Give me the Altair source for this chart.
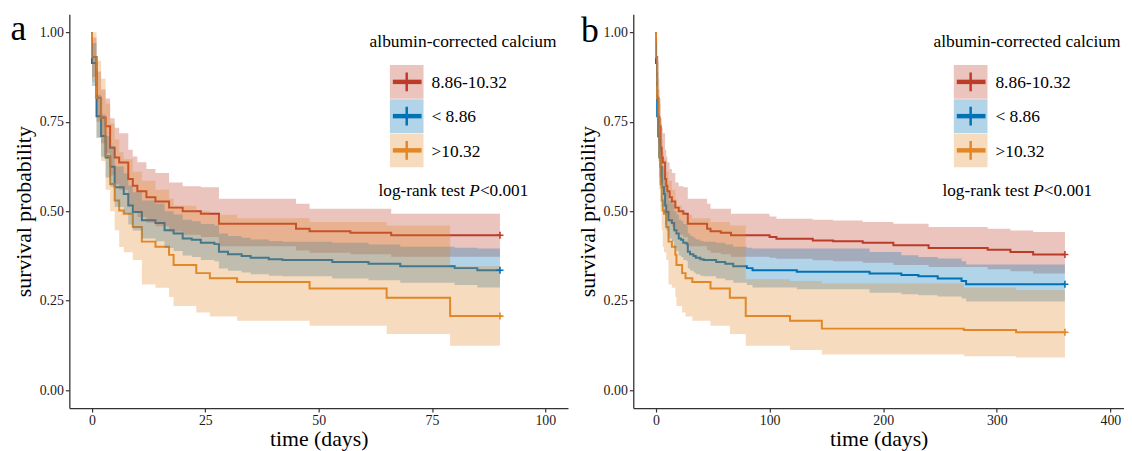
import altair as alt
import pandas as pd

GROUPS = ["8.86-10.32", "< 8.86", ">10.32"]
COLORS = ["#BC3C29", "#0072B5", "#E18727"]

# ---------------- panel a (0-90 days) ----------------
RED_A_T = [0, 0, 1, 2, 3, 4, 5, 6, 8, 9, 10, 12, 14, 17, 20, 24, 28, 45, 48, 57, 66, 90]
RED_A_S = [1.000, 0.931, 0.817, 0.762, 0.737, 0.677, 0.650, 0.636, 0.590, 0.571, 0.556,
           0.539, 0.527, 0.510, 0.500, 0.493, 0.465, 0.451, 0.444, 0.440, 0.433, 0.433]
RED_A_LO = [1.000, 0.875, 0.750, 0.690, 0.662, 0.600, 0.575, 0.560, 0.515, 0.498, 0.484,
            0.468, 0.458, 0.443, 0.434, 0.428, 0.402, 0.390, 0.384, 0.380, 0.373, 0.373]
RED_A_HI = [1.000, 0.985, 0.890, 0.840, 0.815, 0.760, 0.733, 0.718, 0.672, 0.653, 0.637,
            0.618, 0.607, 0.580, 0.570, 0.567, 0.535, 0.521, 0.507, 0.507, 0.493, 0.493]

BLUE_A_T = [0, 0, 1, 2, 3, 4, 5, 7, 8, 9, 11, 14, 16, 18, 20, 22, 24, 27, 28, 30, 33, 35,
            39, 42, 53, 61, 68, 80, 85, 90]
BLUE_A_S = [1.000, 0.914, 0.765, 0.710, 0.650, 0.624, 0.567, 0.548, 0.516, 0.498, 0.475,
            0.467, 0.447, 0.438, 0.424, 0.420, 0.412, 0.408, 0.387, 0.380, 0.375, 0.370,
            0.366, 0.364, 0.358, 0.353, 0.346, 0.341, 0.335, 0.335]
BLUE_A_LO = [1.000, 0.850, 0.705, 0.652, 0.594, 0.568, 0.512, 0.494, 0.463, 0.446, 0.424,
             0.416, 0.397, 0.389, 0.376, 0.372, 0.364, 0.360, 0.340, 0.334, 0.329, 0.324,
             0.320, 0.318, 0.312, 0.307, 0.300, 0.294, 0.287, 0.287]
BLUE_A_HI = [1.000, 0.970, 0.825, 0.770, 0.710, 0.683, 0.625, 0.605, 0.572, 0.553, 0.530,
             0.521, 0.500, 0.491, 0.476, 0.472, 0.464, 0.460, 0.438, 0.431, 0.426, 0.421,
             0.417, 0.415, 0.412, 0.407, 0.401, 0.398, 0.396, 0.396]

ORANGE_A_T = [0, 0, 1, 2, 3, 4, 5, 6, 7, 9, 11, 14, 17, 18, 23, 26, 32, 48, 65, 79, 90]
ORANGE_A_S = [1.000, 0.930, 0.816, 0.760, 0.654, 0.576, 0.530, 0.502, 0.493, 0.456, 0.415,
              0.401, 0.378, 0.350, 0.327, 0.313, 0.302, 0.284, 0.258, 0.207, 0.207]
ORANGE_A_LO = [1.000, 0.860, 0.705, 0.640, 0.560, 0.500, 0.447, 0.400, 0.385, 0.364, 0.295,
               0.286, 0.260, 0.235, 0.217, 0.206, 0.194, 0.180, 0.157, 0.124, 0.124]
ORANGE_A_HI = [1.000, 1.000, 0.920, 0.870, 0.800, 0.745, 0.700, 0.665, 0.645, 0.610, 0.585,
               0.560, 0.535, 0.515, 0.500, 0.490, 0.480, 0.470, 0.460, 0.346, 0.346]

# ---------------- panel b (0-360 days) ----------------
RED_B_T = RED_A_T[:-1] + [100, 106, 138, 156, 182, 209, 240, 292, 312, 332, 360]
RED_B_S = RED_A_S[:-1] + [0.428, 0.423, 0.418, 0.416, 0.412, 0.405, 0.397, 0.392, 0.386, 0.379, 0.379]
RED_B_LO = RED_A_LO[:-1] + [0.370, 0.367, 0.363, 0.360, 0.356, 0.350, 0.344, 0.338, 0.332, 0.326, 0.326]
RED_B_HI = RED_A_HI[:-1] + [0.485, 0.479, 0.476, 0.474, 0.470, 0.465, 0.456, 0.451, 0.446, 0.442, 0.442]

BLUE_B_T = BLUE_A_T[:-1] + [124, 188, 216, 231, 248, 269, 273, 360]
BLUE_B_S = BLUE_A_S[:-1] + [0.331, 0.326, 0.322, 0.318, 0.312, 0.305, 0.296, 0.296]
BLUE_B_LO = BLUE_A_LO[:-1] + [0.282, 0.272, 0.268, 0.265, 0.262, 0.256, 0.248, 0.248]
BLUE_B_HI = BLUE_A_HI[:-1] + [0.396, 0.386, 0.377, 0.372, 0.368, 0.360, 0.351, 0.351]

ORANGE_B_T = ORANGE_A_T[:-2] + [79, 118, 146, 271, 317, 360]
ORANGE_B_S = ORANGE_A_S[:-2] + [0.207, 0.194, 0.172, 0.168, 0.162, 0.162]
ORANGE_B_LO = ORANGE_A_LO[:-2] + [0.124, 0.112, 0.100, 0.095, 0.091, 0.091]
ORANGE_B_HI = ORANGE_A_HI[:-2] + [0.310, 0.305, 0.298, 0.287, 0.280, 0.280]

FONT = "Liberation Serif"
PLUS = "M-1,0H1M0,-1V1"
PLOT_H = 398


def build_df(series):
    rows = []
    for g, (t, s, lo, hi) in zip(GROUPS, series):
        for i, (tt, ss, ll, hh) in enumerate(zip(t, s, lo, hi)):
            rows.append({"group": g, "t": tt, "s": ss, "lo": ll, "hi": hh, "idx": i})
    return pd.DataFrame(rows)


def panel(df, xdomain, xticks, width, letter, letter_x, letter_y):
    xscale = alt.Scale(domain=xdomain, nice=False, zero=False)
    yscale = alt.Scale(domain=[-0.05, 1.05], nice=False, zero=False)
    xaxis = alt.Axis(values=xticks, format="d", title="time (days)")
    yaxis = alt.Axis(values=[0, 0.25, 0.5, 0.75, 1.0], format=".2f",
                     title="survival probability")
    color = alt.Color("group:N", scale=alt.Scale(domain=GROUPS, range=COLORS), legend=None)
    base = alt.Chart(df)

    lines = base.mark_line(interpolate="step-after", strokeWidth=2).encode(
        x=alt.X("t:Q", scale=xscale, axis=xaxis),
        y=alt.Y("s:Q", scale=yscale, axis=yaxis),
        color=color,
        order="idx:Q",
    )
    bands = base.mark_area(interpolate="step-after", opacity=0.3).encode(
        x=alt.X("t:Q", scale=xscale, axis=xaxis),
        y=alt.Y("lo:Q", scale=yscale, axis=yaxis, stack=None),
        y2="hi:Q",
        color=color,
    )
    last = df.sort_values("idx").groupby("group", as_index=False).last()
    ends = alt.Chart(last).mark_point(shape=PLUS, filled=False, size=50,
                                      strokeWidth=1.6, opacity=1).encode(
        x=alt.X("t:Q", scale=xscale, axis=xaxis),
        y=alt.Y("s:Q", scale=yscale, axis=yaxis),
        color=color,
    )

    one = pd.DataFrame({"k": [0]})
    layers = [lines, bands, ends]

    def txt(s, x, y, size, align="left", style="normal"):
        return alt.Chart(one).mark_text(font=FONT, fontSize=size, align=align,
                                        baseline="alphabetic", color="black",
                                        fontStyle=style).encode(
            x=alt.value(x), y=alt.value(y), text=alt.value(s))

    # legend (drawn inside the plot)
    lx0, lx1 = 324, 358
    top0, step, h = 51.3, 34.6, 34
    fs = 17.6
    layers.append(txt("albumin-corrected calcium", 398, 33, fs, align="center"))
    for i, (g, c) in enumerate(zip(GROUPS, COLORS)):
        y0 = top0 + i * step
        cy = y0 + h / 2
        cx = (lx0 + lx1) / 2
        layers.append(alt.Chart(one).mark_rect(color=c, opacity=0.3).encode(
            x=alt.value(lx0), x2=alt.value(lx1), y=alt.value(y0), y2=alt.value(y0 + h)))
        layers.append(alt.Chart(one).mark_rule(color=c, strokeWidth=4.5).encode(
            x=alt.value(lx0 + 3), x2=alt.value(lx1 - 2), y=alt.value(cy)))
        layers.append(alt.Chart(one).mark_rule(color=c, strokeWidth=2.5).encode(
            x=alt.value(cx), y=alt.value(cy - 9.5), y2=alt.value(cy + 9.5)))
        layers.append(txt(g, 366, cy + 6.3, fs))

    # log-rank annotation
    x0, yb, f2 = 312.5, 183.3, 17.4
    layers.append(txt("log-rank test", x0, yb, f2))
    layers.append(txt("P", x0 + 5.277 * f2, yb, f2, style="italic"))
    layers.append(txt("<0.001", x0 + 5.888 * f2, yb, f2))

    # panel letter
    layers.append(txt(letter, letter_x, letter_y, 36))

    return alt.layer(*layers).properties(width=width, height=PLOT_H)


df_a = build_df([
    (RED_A_T, RED_A_S, RED_A_LO, RED_A_HI),
    (BLUE_A_T, BLUE_A_S, BLUE_A_LO, BLUE_A_HI),
    (ORANGE_A_T, ORANGE_A_S, ORANGE_A_LO, ORANGE_A_HI),
])
df_b = build_df([
    (RED_B_T, RED_B_S, RED_B_LO, RED_B_HI),
    (BLUE_B_T, BLUE_B_S, BLUE_B_LO, BLUE_B_HI),
    (ORANGE_B_T, ORANGE_B_S, ORANGE_B_LO, ORANGE_B_HI),
])

pa = panel(df_a, [-5, 105], [0, 25, 50, 75, 100], 504, "a", -59.4, 25.8)
pb = panel(df_b, [-20, 412], [0, 100, 200, 300, 400], 496, "b", -52.8, 27.7)

chart = (
    alt.hconcat(pa, pb, spacing=8)
    .properties(padding={"left": 2, "top": 0, "right": 0, "bottom": 0})
    .configure(font=FONT)
    .configure_view(stroke=None)
    .configure_axis(
        grid=False,
        labelFont=FONT, labelFontSize=14, labelColor="#1a1a1a",
        titleFont=FONT, titleFontSize=22, titleFontWeight="normal", titleColor="black",
        domainColor="#333333", domainWidth=1.3, tickColor="#333333", tickWidth=1.2,
        tickSize=4, labelPadding=2,
    )
    .configure_axisX(titlePadding=1)
    .configure_axisY(titlePadding=4)
)

chart.save("out.html", embed_options={"renderer": "svg", "actions": False})
